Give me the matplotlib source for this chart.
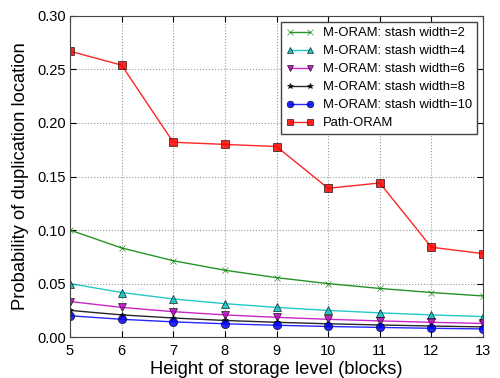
import matplotlib
matplotlib.use("Agg")
import matplotlib.pyplot as plt

# Data
heights = [5, 6, 7, 8, 9, 10, 11, 12, 13]
stash2 = [0.100, 0.0833, 0.0714, 0.0625, 0.0556, 0.0500, 0.0455, 0.0417, 0.0385]
stash4 = [0.0500, 0.0417, 0.0357, 0.0313, 0.0278, 0.0250, 0.0227, 0.0208, 0.0192]
stash6 = [0.0333, 0.0278, 0.0238, 0.0208, 0.0185, 0.0167, 0.0152, 0.0139, 0.0128]
stash8 = [0.0250, 0.0208, 0.0179, 0.0156, 0.0139, 0.0125, 0.0114, 0.0104, 0.0096]
stash10 = [0.0200, 0.0167, 0.0143, 0.0125, 0.0111, 0.0100, 0.0091, 0.0083, 0.0077]
path_oram = [0.267, 0.254, 0.182, 0.180, 0.178, 0.139, 0.144, 0.084, 0.078]

yticks = [0.00, 0.05, 0.10, 0.15, 0.20, 0.25, 0.30]

plt.rcParams['font.family'] = ['Liberation Sans', 'DejaVu Sans']

fig = plt.figure(figsize=(5.0, 3.78), dpi=100)
ax = fig.add_axes([0.14, 0.108, 0.826, 0.85])

series = [
    (stash2, "M-ORAM: stash width=2", "g", "x", 5),
    (stash4, "M-ORAM: stash width=4", "c", "^", 5.5),
    (stash6, "M-ORAM: stash width=6", "m", "v", 5.5),
    (stash8, "M-ORAM: stash width=8", "k", "*", 5),
    (stash10, "M-ORAM: stash width=10", "b", "o", 6),
    (path_oram, "Path-ORAM", "r", "s", 5.5),
]
for vals, label, c, m, ms in series:
    ax.plot(heights, vals, color=c, marker=m, markersize=ms, linewidth=1,
            markeredgecolor=("k" if m not in ("x", "*") else c), markeredgewidth=0.5,
            label=label, alpha=0.85)

ax.set_xlim(5, 13)
ax.set_ylim(0, 0.30)
ax.set_yticks(yticks)
ax.set_yticklabels([f"{v:.2f}" for v in yticks])
ax.set_xticks(heights)
ax.tick_params(direction="in", top=True, right=True, labelsize=10.5, length=4)
ax.tick_params(axis="y", pad=3)
ax.tick_params(axis="x", pad=5)
ax.grid(True, linestyle=":", color="#999999", linewidth=0.8)
for s in ax.spines.values():
    s.set_color("#444444")

ax.set_xlabel("Height of storage level (blocks)", fontsize=13.2, labelpad=2)
ax.set_ylabel("Probability of duplication location", fontsize=13.2, labelpad=6)

leg = ax.legend(loc="upper right", fontsize=9.4, fancybox=False, framealpha=1,
                edgecolor="#444444", borderaxespad=0.45, handlelength=2.1,
                handletextpad=0.7, labelspacing=0.45, borderpad=0.4, numpoints=2,
                markerscale=0.8)
leg.get_frame().set_linewidth(1)

fig.savefig("out.png", dpi=100)
